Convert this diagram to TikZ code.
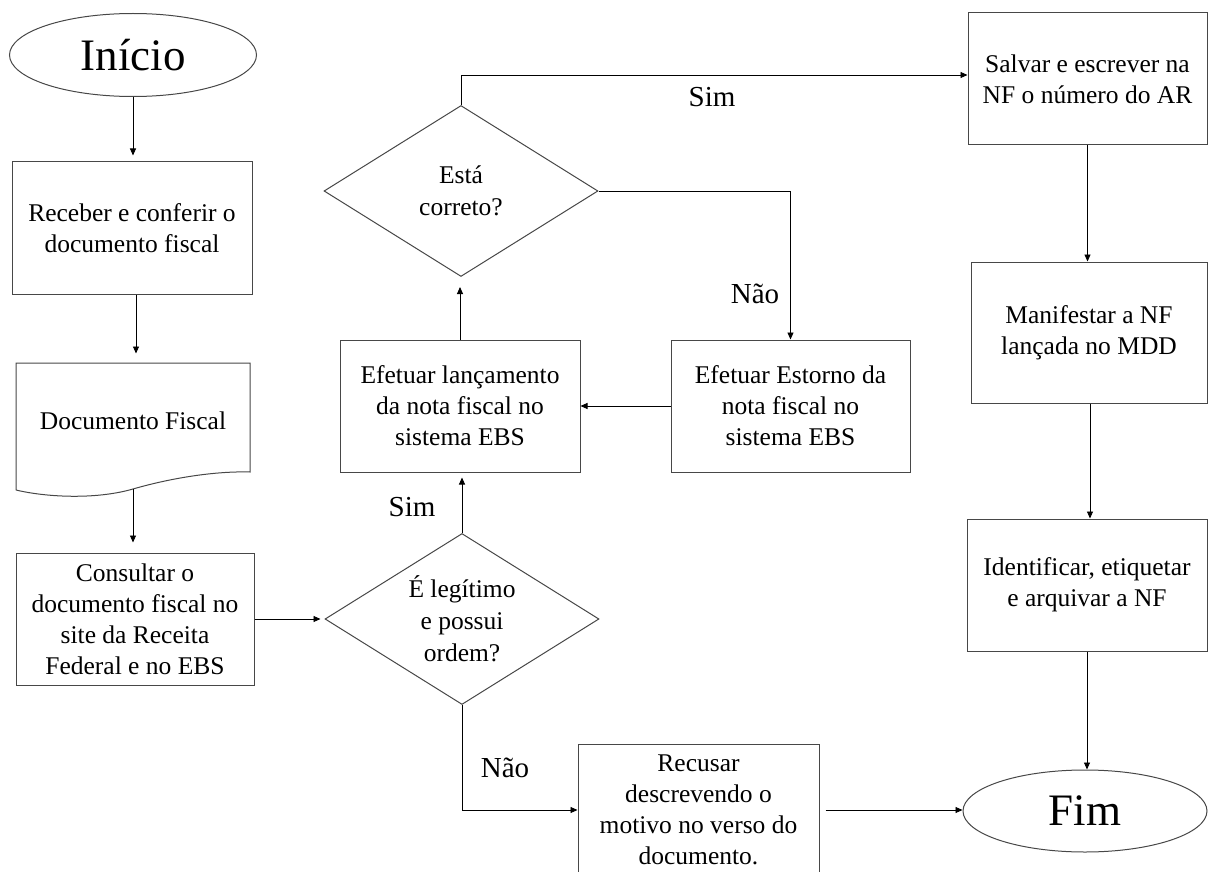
\documentclass[tikz,border=0pt]{standalone}
\usepackage{fontspec}
\setmainfont{Liberation Serif}
\usetikzlibrary{shapes.geometric,arrows.meta,calc}
\begin{document}
\begin{tikzpicture}[x=1pt,y=-1pt,
  shapeline/.style={draw=black!72, line width=1pt},
  box/.style={shapeline, rectangle, inner sep=0pt, align=center, font=\fontsize{25.5}{31}\selectfont},
  dec/.style={shapeline, diamond, aspect=1.6, minimum width=274pt, minimum height=171pt, inner sep=0pt, align=center, font=\fontsize{25.5}{32}\selectfont},
  term/.style={shapeline, ellipse, inner sep=0pt, font=\fontsize{45}{50}\selectfont},
  arr/.style={draw=black, line width=0.9pt, -{Triangle[length=7pt,width=6pt]}},
  lab/.style={font=\fontsize{29}{32}\selectfont, inner sep=0pt}
]
\useasboundingbox (0,0) rectangle (1208,872);

% left column
\node[term, minimum width=247pt, minimum height=83pt] (ini) at (133,55) {Início};
\node[box, minimum width=240pt, minimum height=132pt] (rec) at (132,228) {Receber e conferir o\\documento fiscal};
\node[box, draw=none, minimum width=234pt, minimum height=127pt] (doc) at (133,426.5) {};
\node[font=\fontsize{25.5}{31}\selectfont, inner sep=0pt] (doct) at (133,421) {Documento Fiscal};
\draw[shapeline] (16,490) -- (16,363) -- (250,363) -- (250,472)
  .. controls (215,471) and (171,478) .. (133,489)
  .. controls (95,500) and (45,497) .. (16,490);
\coordinate (docb) at (133,489);
\node[box, minimum width=238pt, minimum height=132pt] (con) at (135,619) {Consultar o\\documento fiscal no\\site da Receita\\Federal e no EBS};

% middle column
\node[dec] (leg) at (462,619) {É legítimo\\e possui\\ordem?};
\node[box, minimum width=240pt, minimum height=132pt] (lan) at (460,406) {Efetuar lançamento\\da nota fiscal no\\sistema EBS};
\node[dec] (cor) at (461,191) {Está\\correto?};
\node[box, minimum width=239pt, minimum height=132pt] (est) at (790.5,406) {Efetuar Estorno da\\nota fiscal no\\sistema EBS};
\node[box, minimum width=241pt, minimum height=132pt] (rcs) at (698.5,810) {Recusar\\descrevendo o\\motivo no verso do\\documento.};

% right column
\node[box, minimum width=239pt, minimum height=132pt] (sal) at (1087.5,79) {Salvar e escrever na\\NF o número do AR};
\node[box, minimum width=236pt, minimum height=141pt] (man) at (1089,332.5) {Manifestar a NF\\lançada no MDD};
\node[box, minimum width=240pt, minimum height=132pt] (ide) at (1087,585) {Identificar, etiquetar\\e arquivar a NF};
\node[term, minimum width=244pt, minimum height=82pt] (fim) at (1085,811) {Fim};

% connectors
\draw[arr, shorten >=6pt] (ini.south) -- (ini.south |- rec.north);
\draw[arr, shorten >=9pt] ([xshift=4pt]rec.south) -- ([xshift=4pt]rec.south |- doc.north);
\draw[arr, shorten >=10pt] (docb) -- (docb |- con.north);
\draw[arr, shorten >=4pt] (con.east) -- (leg.west);
\draw[arr, shorten >=5pt] (leg.north) -- (leg.north |- lan.south);
\draw[arr, shorten >=10pt] (lan.north) -- (lan.north |- cor.south);
\draw[arr] (cor.north) |- ([yshift=4pt]sal.west);
\draw[arr] (cor.east) -| (est.north);
\draw[arr] (est.west) -- (lan.east);
\draw[arr] (leg.south) |- (rcs.west);
\draw[arr, shorten <=6pt] (rcs.east) -- (rcs.east -| fim.west);
\draw[arr] (sal.south) -- (sal.south |- man.north);
\draw[arr] ([xshift=1pt]man.south) -- ([xshift=1pt]man.south |- ide.north);
\draw[arr] (ide.south) -- (ide.south |- fim.north);

% labels
\node[lab] (l1) at (412,507) {Sim};
\node[lab] (l2) at (505,768) {Não};
\node[lab] (l3) at (712,97) {Sim};
\node[lab] (l4) at (755,294) {Não};
\end{tikzpicture}
\end{document}
